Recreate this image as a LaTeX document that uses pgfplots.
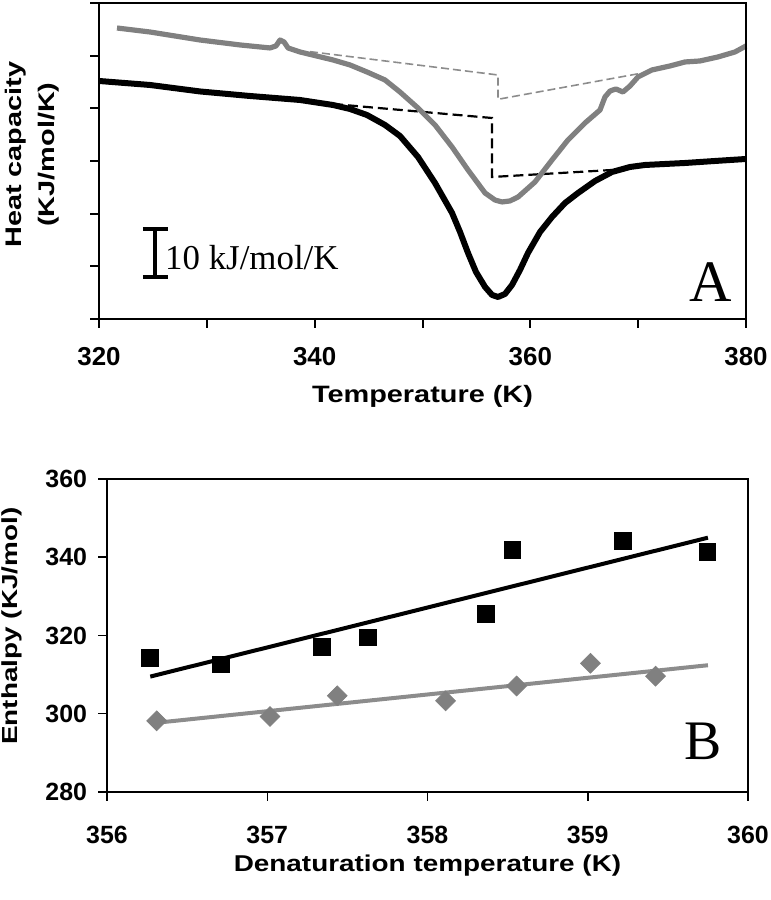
\documentclass[border=0pt]{standalone}
\usepackage{pgfplots}
\pgfplotsset{compat=1.18}
\usepackage{fontspec}
\setmainfont{Liberation Sans}
\newfontfamily\seriffont{Liberation Serif}
\usepackage{graphicx}
\definecolor{curvegray}{HTML}{808080}
\definecolor{dashgray}{HTML}{8C8C8C}
\begin{document}
\begin{tikzpicture}[x=1bp,y=1bp]
\path[use as bounding box] (0,0) rectangle (385,450);
% ---------------- Panel A ----------------
\begin{axis}[name=pa, at={(49.5bp,290.5bp)}, anchor=south west, scale only axis,
 width=323.5bp, height=158bp,
 xmin=320, xmax=380, ymin=0, ymax=60,
 xtick={320,330,...,380}, xticklabels={320,,340,,360,,380},
 ytick={0,10,...,60}, yticklabels={},
 xtick pos=bottom, ytick pos=left, tick align=outside, major tick length=4.5bp,
 axis line style={line width=1.2bp}, every tick/.style={black, line width=1bp},
 /pgf/number format/assume math mode=true,
 xticklabel style={font=\bfseries\fontsize{13}{13}\selectfont, yshift=-6bp},
 xlabel={\scalebox{1}[0.82]{Temperature (K)}},
 xlabel style={font=\bfseries\fontsize{14.5}{14.5}\selectfont, at={(axis description cs:0.5,0)}, anchor=center, yshift=-38.5bp},
 ylabel={\scalebox{1}[0.78]{\begin{tabular}{@{}c@{}}Heat capacity\\[4bp](KJ/mol/K)\end{tabular}}},
 ylabel style={font=\bfseries\fontsize{14.5}{17}\selectfont, at={(axis description cs:-0.102,0.52)}, anchor=center},
 clip=false]
% black curve
\addplot[black, line width=3bp, line join=round] coordinates {
(320.00,45.19) (324.73,44.43) (329.37,43.20) (334.00,42.34) (338.64,41.58)
(341.70,40.63) (343.28,39.87) (344.85,38.73) (345.69,37.78) (346.52,36.84)
(347.91,34.75) (349.58,30.76) (351.16,25.82) (352.74,20.13) (353.48,16.52)
(354.22,12.53) (354.96,8.92) (355.80,6.08) (356.45,4.56) (357.00,4.18)
(357.65,4.75) (358.30,6.46) (359.04,9.30) (359.78,12.53) (360.90,16.52)
(362.01,19.37) (363.22,22.03) (364.42,23.92) (366.00,26.20) (367.57,27.91)
(369.24,28.86) (370.63,29.24) (372.49,29.43) (374.34,29.62) (377.12,30.00)
(380.00,30.38)};
% black dashed baseline
\addplot[black, line width=1.1bp, dash pattern=on 5bp off 2.5bp] coordinates {
(341.70,40.82) (356.45,38.16) (356.45,26.96) (367.57,28.29)};
% gray dashed baseline
\addplot[dashgray, line width=0.8bp, dash pattern=on 4bp off 2bp] coordinates {
(339.57,50.76) (357.00,46.33) (357.00,41.71) (370.91,46.90)};
% gray curve
\addplot[curvegray, line width=2.6bp, line join=round] coordinates {
(321.67,55.25) (324.73,54.49) (329.37,52.97) (333.08,52.03) (335.86,51.46)
(336.41,51.84) (336.79,52.97) (337.16,52.59) (337.53,51.46) (338.64,50.70)
(341.70,49.18) (343.28,48.23) (344.85,46.90) (346.52,45.38) (347.91,43.10)
(349.58,40.06) (351.16,36.84) (352.74,32.66) (354.22,28.29) (355.80,23.92)
(356.72,22.59) (357.37,22.22) (358.11,22.41) (358.86,23.16) (360.43,26.01)
(362.01,30.19) (363.49,33.99) (365.07,37.22) (366.46,39.68) (366.92,42.15)
(367.39,43.29) (367.94,43.67) (368.59,43.10) (369.24,44.24) (369.98,45.95)
(371.28,47.28) (372.95,48.04) (374.34,48.80) (375.73,48.99) (377.40,49.75)
(378.98,50.70) (380.00,51.84)};
% scale bar
\draw[black, line width=1.6bp] (axis cs:325.2,7.97) -- (axis cs:325.2,17.09);
\draw[black, line width=1.6bp] (axis cs:324.08,7.97) -- (axis cs:326.40,7.97);
\draw[black, line width=1.6bp] (axis cs:324.08,17.09) -- (axis cs:326.40,17.09);
\node[anchor=base west, inner sep=0pt, font=\seriffont\fontsize{17.5}{17.5}\selectfont] at (axis cs:326.1,9.3) {10 kJ/mol/K};
\node[anchor=base, inner sep=0pt, font=\seriffont\fontsize{29.5}{29.5}\selectfont] at (axis cs:376.75,3.23) {A};
\end{axis}
% ---------------- Panel B ----------------
\begin{axis}[name=pb, at={(53.5bp,54bp)}, anchor=south west, scale only axis,
 width=320.5bp, height=156.5bp,
 xmin=356, xmax=360, ymin=280, ymax=360,
 xtick={356,357,...,360}, ytick={280,300,...,360},
 xtick pos=bottom, ytick pos=left, tick align=outside, major tick length=4.5bp,
 axis line style={line width=0.9bp}, every tick/.style={black, line width=0.75bp},
 /pgf/number format/assume math mode=true,
 xticklabel style={font=\bfseries\fontsize{12.5}{12.5}\selectfont, yshift=-9bp},
 yticklabel style={font=\bfseries\fontsize{12.5}{12.5}\selectfont, xshift=-2bp},
 xlabel={\scalebox{1}[0.82]{Denaturation temperature (K)}},
 xlabel style={font=\bfseries\fontsize{14}{14}\selectfont, at={(axis description cs:0.5,0)}, anchor=center, yshift=-37bp},
 ylabel={\scalebox{1}[0.78]{Enthalpy (KJ/mol)}},
 ylabel style={font=\bfseries\fontsize{14}{14}\selectfont, at={(axis description cs:-0.148,0.53)}, anchor=center},
 clip=false]
\addplot[black, line width=2bp] coordinates {(356.27,309.5) (359.75,345.0)};
\addplot[dashgray, line width=2bp] coordinates {(356.31,297.7) (359.75,312.4)};
\addplot[only marks, mark=square*, mark size=4.2bp, mark options={fill=black, draw=black}] coordinates {
(356.268,314.2) (356.709,312.6) (357.339,317.1) (357.630,319.5)
(358.364,325.5) (358.530,341.9) (359.217,344.2) (359.747,341.4)};
\addplot[only marks, mark=square*, mark size=3.5bp, mark options={rotate=45, fill=curvegray, draw=curvegray}] coordinates {
(356.310,298.2) (357.017,299.3) (357.437,304.6) (358.113,303.3)
(358.556,307.1) (359.017,312.9) (359.423,309.6)};
\node[anchor=base, inner sep=0pt, font=\seriffont\fontsize{28}{28}\selectfont] at (axis cs:359.718,288.18) {B};
\end{axis}
\draw[black, line width=1.2bp] (pa.south west) rectangle (pa.north east);
\draw[black, line width=0.9bp] (pb.south west) rectangle (pb.north east);
\end{tikzpicture}
\end{document}
